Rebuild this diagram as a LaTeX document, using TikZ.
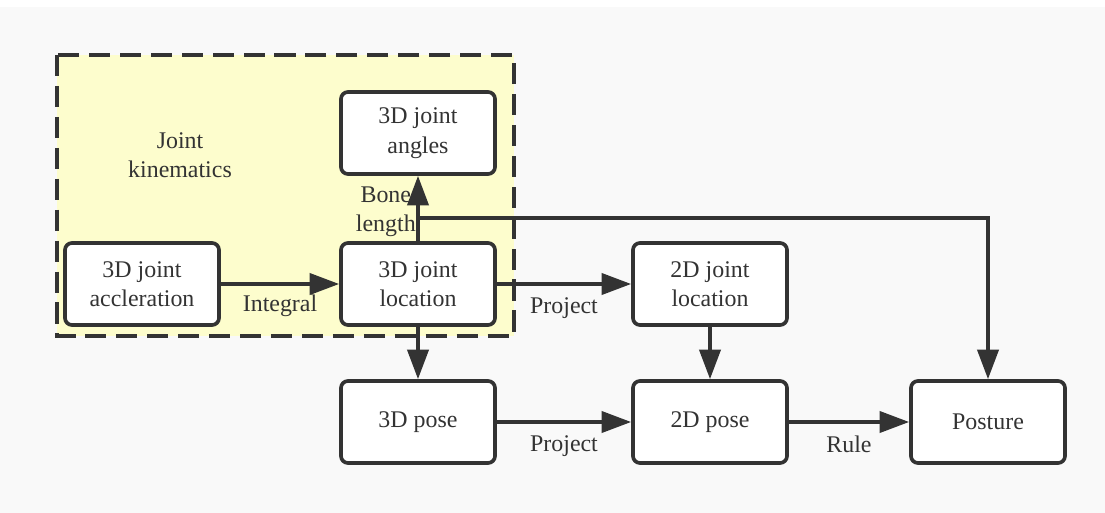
\documentclass[tikz,border=0pt]{standalone}
\usepackage{fontspec}
\setmainfont{Liberation Serif}
\usetikzlibrary{arrows.meta, backgrounds}

\definecolor{ink}{HTML}{333333}
\definecolor{paper}{HTML}{F9F9F9}
\definecolor{groupfill}{HTML}{FDFDCD}

\begin{document}
\begin{tikzpicture}[x=0.025cm, y=-0.025cm, >={Triangle[length=21pt, width=15pt]},
    block/.style={draw=ink, fill=white, line width=2.6pt, rounded corners=5pt,
        minimum width=3.85cm, minimum height=2.05cm, align=center,
        font=\fontsize{17}{21}\selectfont, text=ink},
    flow/.style={->, draw=ink, line width=2.6pt},
    lbl/.style={font=\fontsize{17}{21}\selectfont, text=ink, align=center}]

    % Canvas
    \fill[white] (0,0) rectangle (1105,513);
    \fill[paper] (0,7) rectangle (1105,513);
    \useasboundingbox (0,0) rectangle (1105,513);

    % Joint kinematics group
    \draw[ink, fill=groupfill, line width=2.6pt, dash pattern=on 15pt off 7pt]
        (57,55) rectangle (514,336);
    \node[lbl] (kin) at (180,155) {Joint\\kinematics};

    % Blocks
    \node[block] (angles) at (418,133) {3D joint\\angles};
    \node[block] (accel)  at (142,284) {3D joint\\accleration};
    \node[block] (loc3d)  at (418,284) {3D joint\\location};
    \node[block] (loc2d)  at (710,284) {2D joint\\location};
    \node[block] (pose3d) at (418,422) {3D pose};
    \node[block] (pose2d) at (710,422) {2D pose};
    \node[block] (posture) at (988,422) {Posture};

    % Connectors
    \draw[flow] (accel) -- (loc3d) node[lbl, midway, below=3pt] {Integral};
    \draw[flow] (loc3d) -- (angles) node[lbl, pos=0.45, left=-3pt] {Bone\\length};
    \coordinate (split) at (418,218);
    \draw[flow] (split) -| (posture);
    \draw[flow] (loc3d) -- (loc2d) node[lbl, midway, below=5pt] {Project};
    \draw[flow] (loc3d) -- (pose3d);
    \draw[flow] (loc2d) -- (pose2d);
    \draw[flow] (pose3d) -- (pose2d) node[lbl, midway, below=5pt] {Project};
    \draw[flow] (pose2d) -- (posture) node[lbl, midway, below=5pt] {Rule};

\end{tikzpicture}
\end{document}
